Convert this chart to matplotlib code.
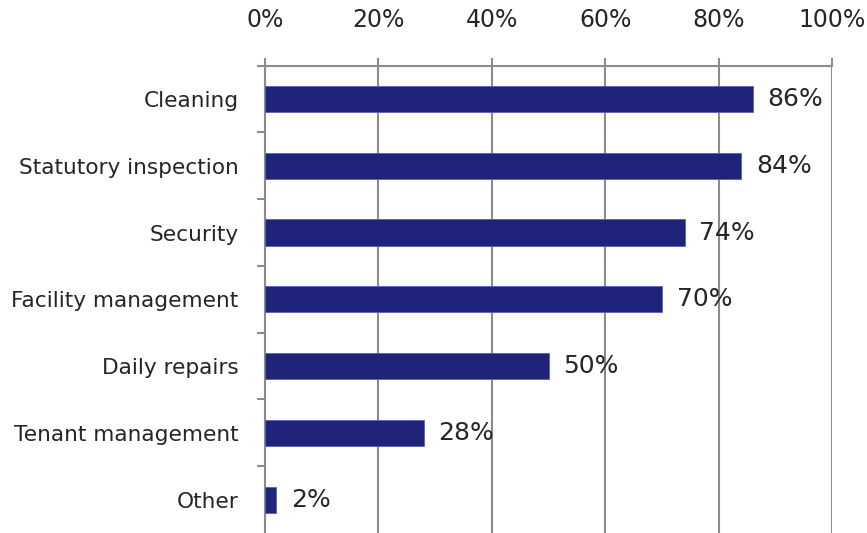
#!/usr/bin/env python3
"""Horizontal bar chart of outsourced building-management services."""

import matplotlib
import numpy as np

matplotlib.use("Agg")
import matplotlib.pyplot as plt
from matplotlib.ticker import FixedLocator, FuncFormatter

CATEGORIES = [
    "Cleaning",
    "Statutory inspection",
    "Security",
    "Facility management",
    "Daily repairs",
    "Tenant management",
    "Other",
]
SHARES = [86, 84, 74, 70, 50, 28, 2]
X_TICKS = [0, 20, 40, 60, 80, 100]

BAR_COLOR = "#1f237a"
GRID_COLOR = "#8c8c8c"
TEXT_COLOR = "#262626"

plt.rcParams.update({"font.family": "DejaVu Sans", "font.size": 15.6})

fig = plt.figure(figsize=(8.67, 5.33), dpi=100)
ax = fig.add_axes([0.3057, 0.0, 0.6540, 0.877])

y = np.arange(len(CATEGORIES))
ax.barh(y, SHARES, height=0.39, color=BAR_COLOR, edgecolor="#5a60b8",
        linewidth=0.6, zorder=3)

for yi, val in zip(y, SHARES):
    ax.text(val + 2.6, yi, f"{val}%", va="center", ha="left",
            color=TEXT_COLOR, fontsize=18, zorder=4)

ax.set_xlim(0, 100)
ax.set_ylim(len(CATEGORIES) - 0.5, -0.5)

ax.xaxis.tick_top()
ax.set_xticks(X_TICKS)
ax.xaxis.set_major_formatter(FuncFormatter(lambda v, _: f"{v:.0f}%"))
ax.tick_params(axis="x", which="major", length=6, width=1.5, color=GRID_COLOR,
               pad=18, labelcolor=TEXT_COLOR, labelsize=17)

ax.set_yticks(y)
ax.set_yticklabels(CATEGORIES)
ax.yaxis.set_minor_locator(FixedLocator(np.arange(-0.5, len(CATEGORIES) - 1, 1.0)))
ax.tick_params(axis="y", which="major", length=0, pad=19, labelcolor=TEXT_COLOR)
ax.tick_params(axis="y", which="minor", length=6, width=1.5, color=GRID_COLOR)

ax.grid(axis="x", color=GRID_COLOR, linewidth=1.5, zorder=0)
ax.set_axisbelow(True)

for side in ("right", "bottom"):
    ax.spines[side].set_visible(False)
for side in ("top", "left"):
    ax.spines[side].set_color(GRID_COLOR)
    ax.spines[side].set_linewidth(1.5)

fig.savefig("out.png", dpi=100)
